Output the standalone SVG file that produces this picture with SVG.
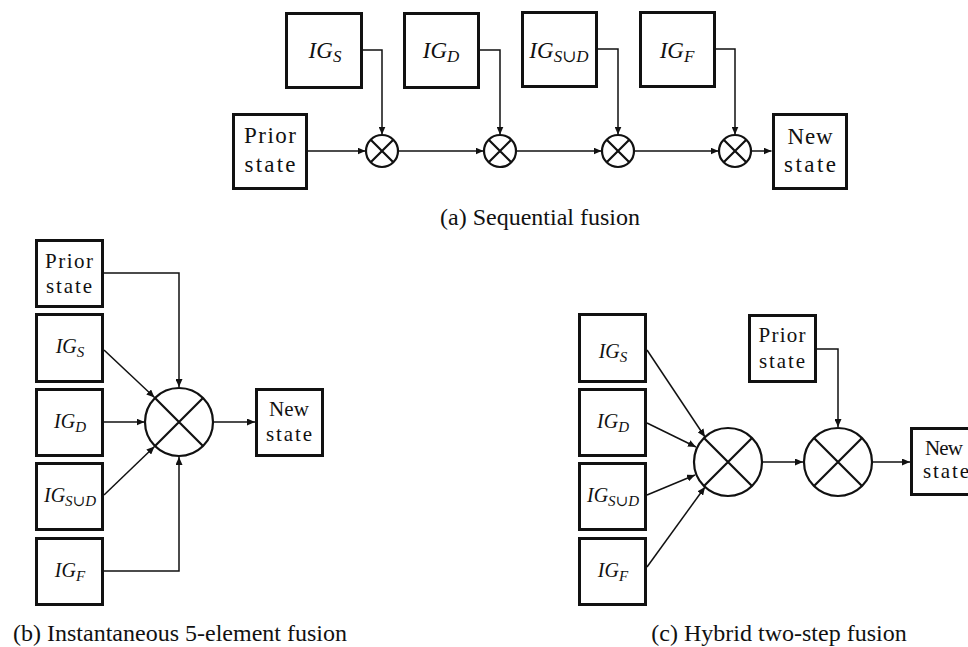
<svg xmlns="http://www.w3.org/2000/svg" width="968" height="647" viewBox="0 0 968 647">
<defs>
<marker id="arr" markerUnits="userSpaceOnUse" markerWidth="9" markerHeight="7" refX="8" refY="3.5" orient="auto">
<path d="M0,0 L8,3.5 L0,7 z" fill="#111"/>
</marker>
<style>
.box{fill:#fff;stroke:#111;stroke-width:3}
.fus{fill:#fff;stroke:#111;stroke-width:2.2}
.x{stroke:#111;stroke-width:2.2}
.con{fill:none;stroke:#111;stroke-width:1.5;marker-end:url(#arr)}
.lbl{font-family:"Liberation Serif","Times New Roman",serif;fill:#111;text-anchor:middle}
.ig{font-family:"Liberation Serif","DejaVu Serif",serif;font-style:italic;fill:#111;text-anchor:middle}
.cap{font-family:"Liberation Serif","Times New Roman",serif;font-size:24px;fill:#111;text-anchor:middle}
</style>
</defs>
<rect width="968" height="647" fill="#fff"/>

<!-- Panel (a) -->
<g id="a_prior"><rect class="box" x="233.5" y="114.5" width="73" height="74"/>
<text class="lbl" font-size="23" x="270" y="143" textLength="52" lengthAdjust="spacing">Prior</text>
<text class="lbl" font-size="23" x="270" y="172" textLength="51" lengthAdjust="spacing">state</text></g>
<g id="a_igs"><rect class="box" x="286.5" y="13.5" width="75" height="74"/>
<text class="ig" font-size="23" x="325" y="58">IG<tspan font-size="17" dy="4">S</tspan></text></g>
<g id="a_igd"><rect class="box" x="404.5" y="13.5" width="74" height="74"/>
<text class="ig" font-size="23" x="441" y="58">IG<tspan font-size="17" dy="4">D</tspan></text></g>
<g id="a_igsud"><rect class="box" x="522.5" y="12.5" width="74" height="74"/>
<text class="ig" font-size="23" x="559" y="58">IG<tspan font-size="17" dy="4">S∪D</tspan></text></g>
<g id="a_igf"><rect class="box" x="640.5" y="12.5" width="74" height="74"/>
<text class="ig" font-size="23" x="677" y="58">IG<tspan font-size="17" dy="4">F</tspan></text></g>
<g id="a_new"><rect class="box" x="773.5" y="114.5" width="73" height="74"/>
<text class="lbl" font-size="23" x="810" y="144" textLength="45" lengthAdjust="spacing">New</text>
<text class="lbl" font-size="23" x="810" y="172" textLength="52" lengthAdjust="spacing">state</text></g>
<g id="a_f1"><circle class="fus" cx="382" cy="151" r="16"/><path class="x" d="M370.7,139.7 L393.3,162.3 M393.3,139.7 L370.7,162.3"/></g>
<g id="a_f2"><circle class="fus" cx="500" cy="151" r="16"/><path class="x" d="M488.7,139.7 L511.3,162.3 M511.3,139.7 L488.7,162.3"/></g>
<g id="a_f3"><circle class="fus" cx="618" cy="151" r="16"/><path class="x" d="M606.7,139.7 L629.3,162.3 M629.3,139.7 L606.7,162.3"/></g>
<g id="a_f4"><circle class="fus" cx="735" cy="151" r="16"/><path class="x" d="M723.7,139.7 L746.3,162.3 M746.3,139.7 L723.7,162.3"/></g>
<g id="a_connectors">
<path class="con" d="M363,50 H382 V134.5"/>
<path class="con" d="M480,50 H500 V134.5"/>
<path class="con" d="M598,49 H618 V134.5"/>
<path class="con" d="M716,49 H735 V134.5"/>
<path class="con" d="M308,151 H365.5"/>
<path class="con" d="M398,151 H483.5"/>
<path class="con" d="M516,151 H601.5"/>
<path class="con" d="M634,151 H718.5"/>
<path class="con" d="M751,151 H771.5"/>
</g>
<text id="cap_a" class="cap" x="540" y="225">(a)  Sequential fusion</text>

<!-- Panel (b) -->
<g id="b_prior"><rect class="box" x="36.5" y="240.5" width="66" height="66"/>
<text class="lbl" font-size="21" x="69" y="268" textLength="48" lengthAdjust="spacing">Prior</text>
<text class="lbl" font-size="21" x="69" y="293" textLength="46" lengthAdjust="spacing">state</text></g>
<g id="b_igs"><rect class="box" x="36.5" y="314.5" width="66" height="67"/>
<text class="ig" font-size="20" x="70" y="353">IG<tspan font-size="15" dy="4">S</tspan></text></g>
<g id="b_igd"><rect class="box" x="36.5" y="389.5" width="66" height="66"/>
<text class="ig" font-size="20" x="70" y="428">IG<tspan font-size="15" dy="4">D</tspan></text></g>
<g id="b_igsud"><rect class="box" x="36.5" y="463.5" width="66" height="66"/>
<text class="ig" font-size="20" x="70" y="502">IG<tspan font-size="15" dy="4">S∪D</tspan></text></g>
<g id="b_igf"><rect class="box" x="36.5" y="538.5" width="66" height="66"/>
<text class="ig" font-size="20" x="70" y="577">IG<tspan font-size="15" dy="4">F</tspan></text></g>
<g id="b_new"><rect class="box" x="256.5" y="389.5" width="66" height="66"/>
<text class="lbl" font-size="21" x="289" y="416" textLength="40" lengthAdjust="spacing">New</text>
<text class="lbl" font-size="21" x="289" y="441" textLength="46" lengthAdjust="spacing">state</text></g>
<g id="b_f"><circle class="fus" cx="179" cy="422" r="34" stroke-width="2.6"/><path class="x" stroke-width="2.6" d="M155,398 L203,446 M203,398 L155,446"/></g>
<g id="b_connectors">
<path class="con" d="M103,273 H179 V387"/>
<path class="con" d="M104,350 L154.5,397.5"/>
<path class="con" d="M104,422 H144.5"/>
<path class="con" d="M104,495 L154.5,446.5"/>
<path class="con" d="M104,571 H179 V457"/>
<path class="con" d="M213,422 H255"/>
</g>
<text id="cap_b" class="cap" x="180" y="641">(b)  Instantaneous 5-element fusion</text>

<!-- Panel (c) -->
<g id="c_igs"><rect class="box" x="579.5" y="314.5" width="66" height="67"/>
<text class="ig" font-size="20" x="613" y="358">IG<tspan font-size="15" dy="4">S</tspan></text></g>
<g id="c_igd"><rect class="box" x="579.5" y="389.5" width="66" height="66"/>
<text class="ig" font-size="20" x="613" y="428">IG<tspan font-size="15" dy="4">D</tspan></text></g>
<g id="c_igsud"><rect class="box" x="579.5" y="463.5" width="66" height="66"/>
<text class="ig" font-size="20" x="613" y="502">IG<tspan font-size="15" dy="4">S∪D</tspan></text></g>
<g id="c_igf"><rect class="box" x="579.5" y="538.5" width="66" height="66"/>
<text class="ig" font-size="20" x="613" y="577">IG<tspan font-size="15" dy="4">F</tspan></text></g>
<g id="c_prior"><rect class="box" x="749.5" y="315.5" width="66" height="66"/>
<text class="lbl" font-size="21" x="782" y="342" textLength="47" lengthAdjust="spacing">Prior</text>
<text class="lbl" font-size="21" x="782" y="368" textLength="46" lengthAdjust="spacing">state</text></g>
<g id="c_new"><rect class="box" x="911.5" y="428.5" width="70" height="66"/>
<text class="lbl" font-size="21" x="944" y="455" textLength="38" lengthAdjust="spacing">New</text>
<text class="lbl" font-size="21" x="946" y="478" textLength="46" lengthAdjust="spacing">state</text></g>
<g id="c_f1"><circle class="fus" cx="728" cy="462" r="34" stroke-width="2.6"/><path class="x" stroke-width="2.6" d="M704,438 L752,486 M752,438 L704,486"/></g>
<g id="c_f2"><circle class="fus" cx="838" cy="462" r="34" stroke-width="2.6"/><path class="x" stroke-width="2.6" d="M814,438 L862,486 M862,438 L814,486"/></g>
<g id="c_connectors">
<path class="con" d="M647,350 L705,437"/>
<path class="con" d="M647,423 L696,447"/>
<path class="con" d="M647,495 L695,475"/>
<path class="con" d="M647,567 L705,487"/>
<path class="con" d="M762,462 H803"/>
<path class="con" d="M872,462 H910"/>
<path class="con" d="M817,349 H838 V427"/>
</g>
<text id="cap_c" class="cap" x="779" y="641">(c)  Hybrid two-step fusion</text>
</svg>
